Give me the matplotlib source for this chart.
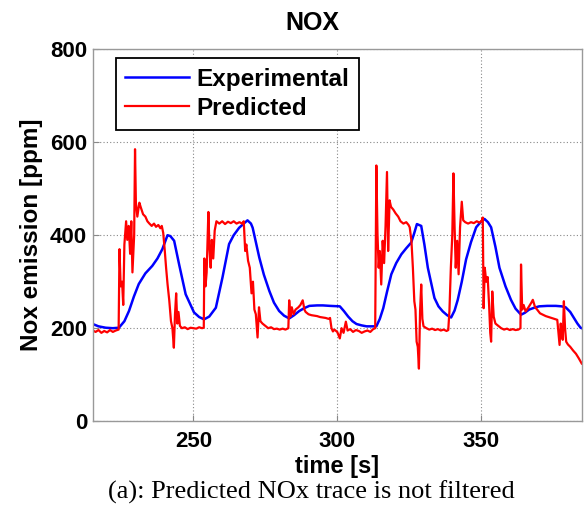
import matplotlib
matplotlib.use("Agg")
import matplotlib.pyplot as plt

plt.rcParams['font.family'] = ['Liberation Sans', 'DejaVu Sans']

# Measured NOx trace (slow analyser response)
exp_t = [215, 217, 219.5, 222, 224.1, 226, 227.6, 229.3, 231, 233.3, 235.7, 237.5, 239.2, 241, 242,
         243.3, 245, 247.3, 250.2, 252, 253.7, 255.5, 257.8, 260.1, 262.4, 264, 265.9, 267.5, 268.8,
         270, 270.6, 272.9, 274.5, 276.4, 278, 279.8, 281.5, 283.3, 285, 286.8, 288.5, 290.3, 293,
         295, 297.5, 300.9, 302.3, 303.8, 305.3, 306.7, 308.5, 310.2, 313.6, 314.8, 316, 317.3,
         318.8, 320.5, 322.3, 324, 325.7, 326.8, 327.7, 329.2, 330.3, 331.5, 333.8, 335.2, 336.7,
         338.2, 339.6, 340.8, 341.9, 343.3, 344.8, 346.5, 348.3, 349.8, 351.2, 352.4, 353.5, 355,
         356.4, 358.5, 360.4, 362, 363.9, 365.2, 366.7, 368.5, 370.2, 373, 376, 378, 379.4, 381,
         382.3, 383.5, 384.6, 385]
exp_ppm = [209, 204, 201, 200, 201, 215, 237, 268, 295, 318, 334, 350, 370, 400, 398,
           388, 338, 273, 234, 224, 219, 225, 244, 309, 381, 400, 416, 425, 432,
           425, 416, 352, 315, 280, 255, 237, 227, 221, 228, 237, 243, 248, 249,
           249, 248, 247, 237, 225, 215, 209, 206, 204, 204, 220, 243, 278,
           316, 340, 359, 372, 384, 405, 424, 420, 380, 330, 265, 247, 236,
           228, 223, 238, 261, 300, 348, 385, 417, 428, 435, 428, 417, 375,
           330, 290, 261, 242, 229, 233, 240, 244, 247, 248, 248, 247, 245, 235,
           222, 210, 201, 200]

# Model-predicted NOx trace (unfiltered)
pred_t = [215.0, 216.0, 217.0, 218.0, 219.0, 220.0, 221.0, 222.0, 223.0, 224.0, 224.3, 224.7, 225.2,
          225.6, 226.0, 226.6, 227.0, 227.5, 228.0, 228.4, 228.8, 229.4, 229.7, 230.0, 230.5, 231.2,
          231.7, 232.5, 233.3, 234.0, 234.7, 235.5, 236.3, 237.0, 237.8, 238.5, 239.0, 239.5, 240.0,
          240.5, 241.0, 241.6, 242.2, 242.7, 243.2, 243.6, 244.0, 244.4, 244.8, 245.3, 246.0, 247.0,
          248.0, 249.0, 250.0, 251.0, 252.0, 253.0, 253.6, 253.8, 254.2, 254.6, 255.2, 255.6, 256.0,
          256.4, 256.9, 257.4, 258.0, 259.0, 260.0, 261.0, 262.0, 263.0, 264.0, 265.0, 266.0, 267.0,
          267.5, 268.0, 268.4, 269.0, 269.6, 270.2, 270.7, 271.2, 271.7, 272.3, 272.8, 273.3, 274.0,
          275.0, 276.0, 277.0, 278.0, 279.0, 280.0, 281.0, 282.0, 283.0, 283.3, 283.7, 284.2, 284.8,
          285.5, 286.5, 287.2, 288.0, 288.6, 289.0, 290.0, 291.0, 292.0, 293.0, 294.0, 295.0, 296.0,
          297.0, 297.5, 298.0, 298.5, 299.0, 300.0, 300.9, 301.5, 302.2, 303.0, 303.6, 304.5, 305.5,
          306.5, 307.5, 308.5, 309.5, 310.5, 311.5, 312.5, 313.2, 313.6, 314.0, 314.4, 314.8, 315.3,
          315.8, 316.3, 316.8, 317.3, 317.7, 318.2, 318.7, 319.5, 320.3, 321.2, 322.0, 323.0, 324.0,
          324.8, 325.2, 325.8, 326.3, 326.8, 327.2, 327.6, 328.0, 328.4, 328.8, 329.2, 329.6, 330.0,
          331.0, 332.0, 333.0, 334.0, 335.0, 336.0, 337.0, 338.0, 338.6, 339.0, 339.5, 340.0, 340.4,
          340.8, 341.2, 341.7, 342.2, 342.7, 343.3, 343.8, 344.5, 345.5, 346.5, 347.5, 348.5, 349.5,
          350.3, 350.6, 350.9, 351.3, 351.8, 352.3, 352.8, 353.2, 353.5, 353.9, 354.4, 355.0, 356.0,
          357.0, 358.0, 359.0, 360.0, 361.0, 362.0, 363.0, 363.7, 363.9, 364.3, 364.8, 365.5, 366.5,
          367.5, 368.0, 368.8, 369.5, 370.5, 371.5, 372.5, 373.5, 374.5, 375.5, 376.5, 377.0, 377.3,
          377.7, 378.0, 378.4, 378.8, 379.2, 379.6, 380.2, 381.0, 382.0, 383.0, 384.0, 385.0]
pred_ppm = [195, 192, 196, 190, 194, 191, 196, 192, 195, 197, 370, 290, 300,
            250, 380, 430, 390, 420, 360, 430, 320, 400, 585, 470, 440, 470,
            460, 445, 440, 430, 425, 420, 425, 418, 422, 415, 420, 405, 370,
            330, 295, 260, 215, 200, 158, 230, 275, 210, 235, 205, 200, 202,
            198, 201, 200, 199, 202, 200, 201, 350, 290, 320, 450, 370, 330,
            390, 350, 410, 430, 425, 430, 424, 429, 426, 430, 425, 428, 425,
            430, 366, 380, 345, 330, 275, 300, 240, 230, 180, 245, 215, 210,
            205, 200, 202, 198, 199, 197, 199, 197, 200, 260, 225, 245, 230,
            240, 245, 250, 260, 240, 235, 230, 228, 227, 226, 224, 223, 222,
            220, 222, 200, 193, 197, 192, 178, 200, 190, 214, 195, 198, 192,
            196, 194, 190, 193, 195, 192, 198, 200, 550, 402, 330, 366, 294,
            388, 340, 420, 536, 366, 475, 461, 455, 447, 440, 430, 425, 428,
            422, 417, 388, 330, 258, 240, 171, 160, 113, 236, 294, 220, 204,
            200, 197, 199, 196, 198, 195, 197, 194, 196, 236, 330, 400, 533,
            418, 330, 388, 316, 417, 472, 432, 428, 425, 428, 426, 430, 427,
            432, 438, 243, 330, 300, 310, 250, 190, 171, 279, 225, 210, 205,
            200, 197, 199, 196, 198, 196, 197, 200, 337, 240, 250, 236, 245,
            255, 261, 245, 240, 232, 229, 226, 224, 222, 220, 218, 185, 164,
            210, 190, 175, 258, 200, 171, 165, 160, 152, 145, 135, 124]

x_ticks = [250, 300, 350]
y_ticks = [0, 200, 400, 600, 800]

fig = plt.figure(figsize=(5.87, 5.13), dpi=100)
ax = fig.add_axes([0.158, 0.179, 0.833, 0.725])

ax.plot(exp_t, exp_ppm, color=(0, 0, 1), lw=1.8, label='Experimental')
ax.plot(pred_t, pred_ppm, color=(1, 0, 0), lw=1.6, label='Predicted')

ax.set_xlim(215, 385)
ax.set_ylim(0, 800)
ax.set_xticks(x_ticks)
ax.set_yticks(y_ticks)
ax.tick_params(direction='in', length=4, color='#888888', labelsize=16)
ax.tick_params(axis='x', pad=7)
ax.tick_params(axis='y', pad=4)
for lbl in ax.get_xticklabels() + ax.get_yticklabels():
    lbl.set_fontweight('bold')
for sp in ax.spines.values():
    sp.set_color('#999999')
    sp.set_linewidth(1.0)
ax.grid(True, linestyle=(0, (1, 2)), color='#888888', linewidth=0.8)

fig.text(312 / 587, 1 - 23 / 513, 'NOX', ha='center', va='center', fontsize=18, fontweight='bold')
ax.set_xlabel('time [s]', fontsize=17, fontweight='bold', labelpad=2)
ax.set_ylabel('Nox emission [ppm]', fontsize=17.5, fontweight='bold', labelpad=5)

leg = ax.legend(loc='upper left', bbox_to_anchor=(0.047, 0.976), prop={'weight': 'bold', 'size': 17.5},
                frameon=True, fancybox=False, edgecolor='black', framealpha=1,
                handlelength=2.6, borderpad=0.4, labelspacing=0.25, handletextpad=0.3,
                borderaxespad=0)
leg.get_frame().set_linewidth(1.3)

fig.text(311 / 587, 1 - 492 / 513, '(a): Predicted NOx trace is not filtered', ha='center', va='center',
         fontsize=19, family=['Liberation Serif', 'DejaVu Serif'])

fig.savefig('out.png', dpi=100)
